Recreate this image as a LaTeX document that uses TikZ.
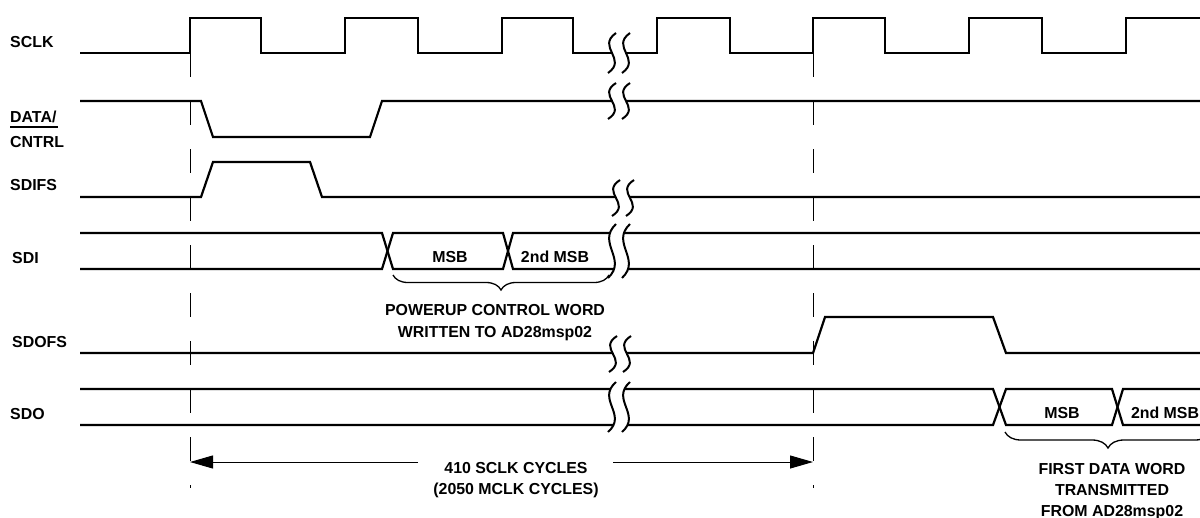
\documentclass[tikz,border=0pt]{standalone}
\usepackage{fontspec}
\setmainfont{Liberation Sans}
\usetikzlibrary{arrows.meta,decorations.pathreplacing}
\newcommand\brkmark[3]{%
  \fill[white] ({#1-3},{#2-#3}) .. controls ({#1-7-16},{#2-0.3*#3}) and ({#1-7+16},{#2+0.3*#3}) .. ({#1-11},{#2+#3})
     -- ({#1+3},{#2+#3}) .. controls ({#1+7+16},{#2+0.3*#3}) and ({#1+7-16},{#2-0.3*#3}) .. ({#1+11},{#2-#3}) -- cycle;
  \draw[brk] ({#1-3},{#2-#3}) .. controls ({#1-7-16},{#2-0.3*#3}) and ({#1-7+16},{#2+0.3*#3}) .. ({#1-11},{#2+#3});
  \draw[brk] ({#1+11},{#2-#3}) .. controls ({#1+7-16},{#2-0.3*#3}) and ({#1+7+16},{#2+0.3*#3}) .. ({#1+3},{#2+#3});
}
\begin{document}
\begin{tikzpicture}[x=1pt,y=-1pt,
  sig/.style={line width=2.2pt},
  guide/.style={line width=1pt, dash pattern=on 24pt off 24pt},
  brk/.style={line width=2pt},
  txt/.style={inner sep=0pt, font=\fontsize{15.9}{21.5}\selectfont\bfseries},
  lbl/.style={txt, anchor=base west},
  ctr/.style={txt, anchor=base},
  brc/.style={line width=1.3pt, decorate, decoration={brace, mirror, amplitude=#1}},
  dim/.style={line width=1pt, -{Triangle[length=23pt,width=13pt]}}
  ]
\useasboundingbox (0,0) rectangle (1200,517);
% guides
\draw[guide] (190,53) -- (190,488);
\draw[guide] (813,53) -- (813,488);
% SCLK
\draw[sig] (80,53) -- (190,53) -- (190,18) -- (261,18) -- (261,53) -- (345,53) -- (345,18) -- (418,18) -- (418,53)
  -- (502,53) -- (502,18) -- (573,18) -- (573,53) -- (657,53) -- (657,18) -- (730,18) -- (730,53)
  -- (813,53) -- (813,18) -- (885,18) -- (885,53) -- (969,53) -- (969,18) -- (1042,18) -- (1042,53)
  -- (1126,53) -- (1126,18) -- (1201,18);
% DATA/CNTRL
\draw[sig] (80,101) -- (201,101) -- (213,137) -- (370,137) -- (382,101) -- (1201,101);
% SDIFS
\draw[sig] (80,197) -- (201,197) -- (213,162) -- (310,162) -- (322,197) -- (1201,197);
% SDI
\draw[sig] (80,233) -- (382,233) -- (393,269) -- (503,269) -- (513,233) -- (1201,233);
\draw[sig] (80,269) -- (382,269) -- (393,233) -- (503,233) -- (513,269) -- (1201,269);
% SDOFS
\draw[sig] (80,353) -- (813,353) -- (825,317) -- (993,317) -- (1006,353) -- (1201,353);
% SDO
\draw[sig] (80,389) -- (993,389) -- (1006,425) -- (1112,425) -- (1123,389) -- (1201,389);
\draw[sig] (80,425) -- (993,425) -- (1006,389) -- (1112,389) -- (1123,425) -- (1201,425);
% breaks
\brkmark{619}{53}{20}
\brkmark{619}{101}{18}
\brkmark{623}{198}{18}
\brkmark{619}{251}{27}
\brkmark{620}{354}{18}
\brkmark{619}{407}{25}
% labels
\node[lbl] (lsclk) at (10,47) {SCLK};
\node[lbl] (ldata) at (10,122) {DATA/};
\node[lbl] (lcntrl) at (10,147) {CNTRL};
\draw[line width=1.8pt] (10,127) -- (58,127);
\node[lbl] (lsdifs) at (10,190) {SDIFS};
\node[lbl] (lsdi) at (12,263) {SDI};
\node[lbl] (lsdofs) at (12,347) {SDOFS};
\node[lbl] (lsdo) at (10,419) {SDO};
% SDI fields
\node[ctr] (m1) at (450,262) {MSB};
\node[ctr] (m2) at (555,262) {2nd MSB};
\draw[brc=15pt] (393,275) -- (609,275);
\node[ctr] (pw1) at (495,315) {POWERUP CONTROL WORD};
\node[ctr] (pw2) at (495,337) {WRITTEN TO AD28msp02};
% SDO fields
\node[ctr] (m3) at (1062,418) {MSB};
\node[ctr] (m4) at (1165,418) {2nd MSB};
\draw[brc=16pt] (1005,432) -- (1211,432);
\node[ctr] (fd1) at (1112,474) {FIRST DATA WORD};
\node[ctr] (fd2) at (1112,495) {TRANSMITTED};
\node[ctr] (fd3) at (1112,516) {FROM AD28msp02};
% cycles dimension
\coordinate (aL) at (190,462);
\coordinate (aR) at (813,462);
\coordinate (gL) at (418,462);
\coordinate (gR) at (613,462);
\draw[dim] (gL) -- (aL);
\draw[dim] (gR) -- (aR);
\node[ctr] (cy1) at (516,473) {410 SCLK CYCLES};
\node[ctr] (cy2) at (516,494) {(2050 MCLK CYCLES)};
\end{tikzpicture}
\end{document}
